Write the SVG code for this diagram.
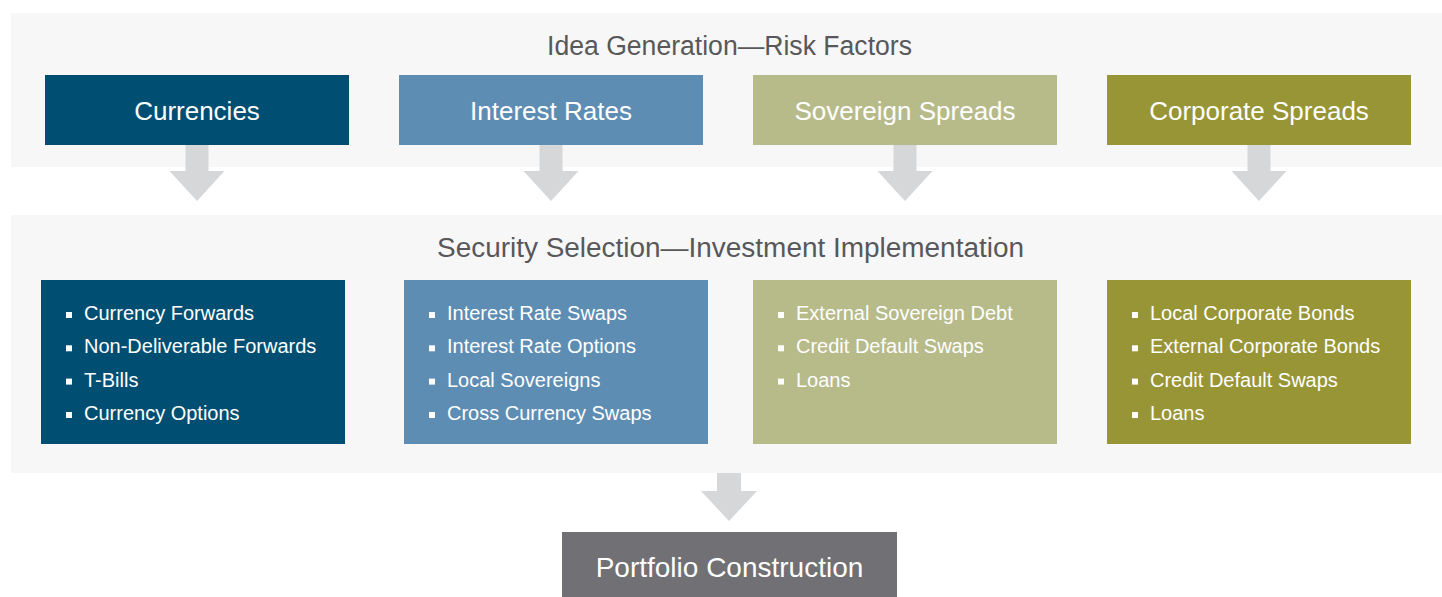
<svg xmlns="http://www.w3.org/2000/svg" xmlns:xlink="http://www.w3.org/1999/xlink" width="1442" height="597" viewBox="0 0 1442 597">
<defs>
<style>
.panel{fill:#f7f7f7}
.title{font-family:"Liberation Sans",Arial,sans-serif;font-size:27px;fill:#58585a;text-anchor:middle}
.lbl{font-family:"Liberation Sans",Arial,sans-serif;font-size:26px;fill:#ffffff;text-anchor:middle}
.item{font-family:"Liberation Sans",Arial,sans-serif;font-size:20px;fill:#ffffff}
.bul{fill:#ffffff}
.arrow{fill:#d6d7d9}
.c1{fill:#004f72}
.c2{fill:#5e8db3}
.c3{fill:#b7bb8a}
.c4{fill:#989536}
.c5{fill:#717074}
</style>
<path id="arrTop" d="M-11.5,0 h23 v26 h16 l-27.5,30 l-27.5,-30 h16 z"/>
<rect id="sq" width="6" height="6"/>
</defs>
<rect width="1442" height="597" fill="#ffffff"/>

<g id="panel-idea">
<rect class="panel" x="11" y="13" width="1431" height="154"/>
<text class="title" x="729.5" y="55" textLength="365" lengthAdjust="spacingAndGlyphs">Idea Generation—Risk Factors</text>
</g>
<g id="panel-security">
<rect class="panel" x="11" y="215" width="1431" height="258"/>
<text class="title" x="730.5" y="257" textLength="587" lengthAdjust="spacingAndGlyphs">Security Selection—Investment Implementation</text>
</g>

<g id="connectors">
<use href="#arrTop" class="arrow" x="197" y="145"/>
<use href="#arrTop" class="arrow" x="551" y="145"/>
<use href="#arrTop" class="arrow" x="905" y="145"/>
<use href="#arrTop" class="arrow" x="1259" y="145"/>
<path class="arrow" d="M717,473 h24 v18 h16 l-28,30 l-28,-30 h16 z"/>
</g>

<g id="node-currencies">
<rect class="c1" x="45" y="75" width="304" height="70"/>
<text class="lbl" x="197" y="120">Currencies</text>
</g>
<g id="node-interest-rates">
<rect class="c2" x="399" y="75" width="304" height="70"/>
<text class="lbl" x="551" y="120">Interest Rates</text>
</g>
<g id="node-sovereign-spreads">
<rect class="c3" x="753" y="75" width="304" height="70"/>
<text class="lbl" x="905" y="120">Sovereign Spreads</text>
</g>
<g id="node-corporate-spreads">
<rect class="c4" x="1107" y="75" width="304" height="70"/>
<text class="lbl" x="1259" y="120">Corporate Spreads</text>
</g>

<g id="node-currency-instruments">
<rect class="c1" x="41" y="280" width="304" height="164"/>
<use href="#sq" class="bul" x="66" y="312"/>
<use href="#sq" class="bul" x="66" y="345.3"/>
<use href="#sq" class="bul" x="66" y="378.6"/>
<use href="#sq" class="bul" x="66" y="412"/>
<text class="item" x="84" y="320">Currency Forwards</text>
<text class="item" x="84" y="353.3">Non-Deliverable Forwards</text>
<text class="item" x="84" y="386.6">T-Bills</text>
<text class="item" x="84" y="420">Currency Options</text>
</g>
<g id="node-rate-instruments">
<rect class="c2" x="404" y="280" width="304" height="164"/>
<use href="#sq" class="bul" x="429" y="312"/>
<use href="#sq" class="bul" x="429" y="345.3"/>
<use href="#sq" class="bul" x="429" y="378.6"/>
<use href="#sq" class="bul" x="429" y="412"/>
<text class="item" x="447" y="320">Interest Rate Swaps</text>
<text class="item" x="447" y="353.3">Interest Rate Options</text>
<text class="item" x="447" y="386.6">Local Sovereigns</text>
<text class="item" x="447" y="420">Cross Currency Swaps</text>
</g>
<g id="node-sovereign-instruments">
<rect class="c3" x="753" y="280" width="304" height="164"/>
<use href="#sq" class="bul" x="778" y="312"/>
<use href="#sq" class="bul" x="778" y="345.3"/>
<use href="#sq" class="bul" x="778" y="378.6"/>
<text class="item" x="796" y="320">External Sovereign Debt</text>
<text class="item" x="796" y="353.3">Credit Default Swaps</text>
<text class="item" x="796" y="386.6">Loans</text>
</g>
<g id="node-corporate-instruments">
<rect class="c4" x="1107" y="280" width="304" height="164"/>
<use href="#sq" class="bul" x="1132" y="312"/>
<use href="#sq" class="bul" x="1132" y="345.3"/>
<use href="#sq" class="bul" x="1132" y="378.6"/>
<use href="#sq" class="bul" x="1132" y="412"/>
<text class="item" x="1150" y="320">Local Corporate Bonds</text>
<text class="item" x="1150" y="353.3">External Corporate Bonds</text>
<text class="item" x="1150" y="386.6">Credit Default Swaps</text>
<text class="item" x="1150" y="420">Loans</text>
</g>

<g id="node-portfolio-construction">
<rect class="c5" x="562" y="532" width="335" height="70"/>
<text class="lbl" x="729.5" y="577" style="font-size:28px">Portfolio Construction</text>
</g>
</svg>
